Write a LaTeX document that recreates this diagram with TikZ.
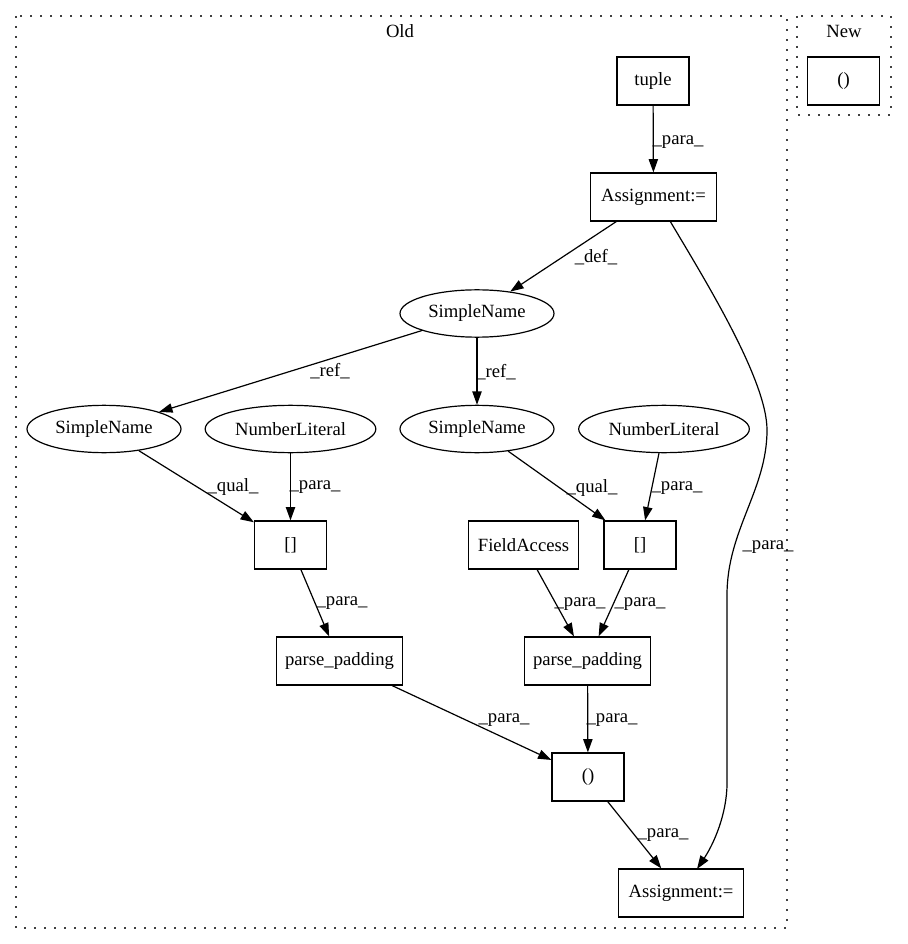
\documentclass[tikz,border=0pt]{standalone}
\usepackage{fontspec}
\setmainfont{Liberation Serif}
\usetikzlibrary{shapes.geometric,arrows.meta}
\begin{document}
\begin{tikzpicture}[x=0.75pt,y=-0.75pt,
  font=\fontsize{14pt}{16pt}\selectfont,
  box/.style={draw,line width=0.9pt,rectangle,inner sep=0pt,minimum height=36pt},
  oval/.style={draw,line width=0.9pt,ellipse,inner sep=0pt,minimum height=35.5pt},
  edge/.style={line width=0.9pt,-{Triangle[length=10pt,width=7pt]}},
  lbl/.style={inner sep=0pt},
  cluster/.style={draw=black!75,line width=1.2pt,dash pattern=on 1.2pt off 6.3pt}]
\useasboundingbox (0,0) rectangle (907,944);
% clusters
\draw[cluster] (16,16) rectangle (787,928);
\node[lbl] (oldlbl) at (400,31) {Old};
\draw[cluster] (797,16) rectangle (891,115);
\node[lbl] (newlbl) at (844,31) {New};
% nodes
\node[box,minimum width=54pt] (newtup) at (843.5,81) {()};
\node[box,minimum width=54pt] (tuple) at (653,81) {tuple};
\node[box,minimum width=94pt] (asg1) at (653.5,197) {Assignment:=};
\node[oval,minimum width=115.5pt] (sn0) at (477,313.5) {SimpleName};
\node[oval,minimum width=115.5pt] (sn1) at (104,429) {SimpleName};
\node[oval,minimum width=128pt] (nl1) at (290.5,429) {NumberLiteral};
\node[oval,minimum width=115.5pt] (sn2) at (477,429) {SimpleName};
\node[oval,minimum width=128pt] (nl2) at (664,429) {NumberLiteral};
\node[box,minimum width=54pt] (br1) at (290.5,545) {[]};
\node[box,minimum width=83pt] (fa) at (523.5,545) {FieldAccess};
\node[box,minimum width=54pt] (br2) at (640,545) {[]};
\node[box,minimum width=95pt] (pp1) at (339.5,661) {parse\_padding};
\node[box,minimum width=95pt] (pp2) at (587.5,661) {parse\_padding};
\node[box,minimum width=54pt] (tup2) at (588,777) {()};
\node[box,minimum width=94pt] (asg2) at (681,893) {Assignment:=};
% edges
\draw[edge] (tuple) -- (asg1);
\node[lbl] (l1) at (678,142) {\_para\_};
\draw[edge] (asg1) -- (sn0);
\node[lbl] (l2) at (596,257) {\_def\_};
\coordinate (c0) at (670,221);
\coordinate (c1) at (767,430);
\coordinate (c2) at (727,595);
\coordinate (c3) at (727,783);
\coordinate (c4) at (697,869);
\draw[edge] (c0) .. controls (705,280) and (767,380) .. (c1)
  .. controls (767,490) and (727,530) .. (c2) -- (c3)
  .. controls (727,815) and (713,845) .. (c4);
\node[lbl] (l3) at (768,547) {\_para\_};
\draw[edge] (sn0) -- (sn1);
\node[lbl] (l4) at (330,371) {\_ref\_};
\draw[edge] (sn0) -- (sn2);
\node[lbl] (l5) at (496,372) {\_ref\_};
\draw[edge] (sn1) -- (br1);
\node[lbl] (l6) at (233,487) {\_qual\_};
\draw[edge] (nl1) -- (br1);
\node[lbl] (l7) at (315,487) {\_para\_};
\draw[edge] (sn2) -- (br2);
\node[lbl] (l8) at (592,488) {\_qual\_};
\draw[edge] (nl2) -- (br2);
\node[lbl] (l9) at (677,488) {\_para\_};
\draw[edge] (br1) -- (pp1);
\node[lbl] (l10) at (342,603) {\_para\_};
\draw[edge] (fa) -- (pp2);
\node[lbl] (l11) at (580,604) {\_para\_};
\draw[edge] (br2) -- (pp2);
\node[lbl] (l12) at (640,604) {\_para\_};
\draw[edge] (pp1) -- (tup2);
\node[lbl] (l13) at (504,720) {\_para\_};
\draw[edge] (pp2) -- (tup2);
\node[lbl] (l14) at (612,720) {\_para\_};
\draw[edge] (tup2) -- (asg2);
\node[lbl] (l15) at (663,835) {\_para\_};
\end{tikzpicture}
\end{document}
